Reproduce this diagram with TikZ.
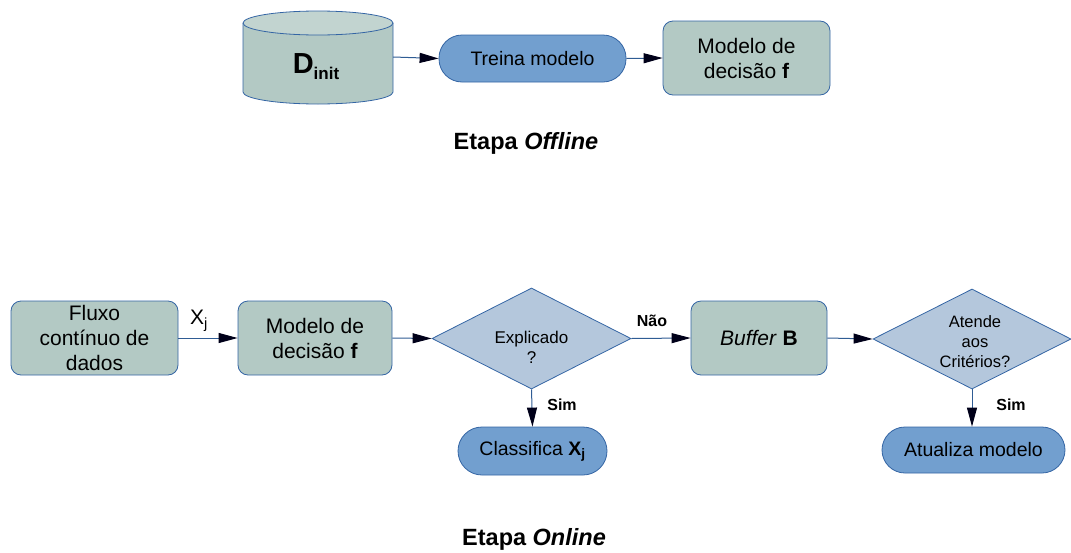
\documentclass[tikz,border=0pt]{standalone}
\usepackage{fontspec}
\setmainfont{Liberation Sans}
\usetikzlibrary{shapes.geometric,arrows.meta}
\definecolor{boxfill}{HTML}{B3C9C4}
\definecolor{diafill}{HTML}{B4C7DC}
\definecolor{stadfill}{HTML}{729FCF}
\definecolor{edge}{HTML}{3465A4}
\definecolor{linec}{HTML}{2F5C94}
\tikzset{
  basefont/.style={font=\fontsize{21}{25}\selectfont, align=center, text=black},
  procbox/.style={basefont, draw=edge, line width=0.8pt, fill=boxfill, rounded corners=10pt, inner sep=0pt, minimum height=74pt},
  stadium/.style={font=\fontsize{19.5}{24}\selectfont, align=center, text=black, draw=edge, line width=0.8pt, fill=stadfill, inner sep=0pt},
  decision/.style={draw=edge, line width=0.8pt, fill=diafill, diamond, aspect=2, inner sep=0pt},
  dtext/.style={align=center, inner sep=0pt, font=\fontsize{17}{20}\selectfont},
  flow/.style={draw=linec, line width=1pt, -{Triangle[length=19pt,width=10pt,color=black!90!blue]}},
  lbl/.style={font=\fontsize{16}{18}\selectfont\bfseries, inner sep=0pt},
  title/.style={font=\fontsize{23.5}{26}\selectfont\bfseries, inner sep=0pt}
}
\begin{document}
\begin{tikzpicture}[x=1pt,y=-1pt]
\useasboundingbox (0,0) rectangle (1071,552);
% Offline stage
\fill[boxfill] (243,23) -- (243,92) arc[start angle=180,end angle=0,x radius=75,y radius=12] -- (393,23) -- cycle;
\draw[edge, line width=0.8pt] (243,23) -- (243,92) arc[start angle=180,end angle=0,x radius=75,y radius=12] -- (393,23);
\draw[edge, line width=0.8pt, fill=boxfill!80!white] (318,23) ellipse[x radius=75,y radius=12];
\node[inner sep=0pt, minimum width=150pt, minimum height=94pt] (dinit) at (318,57) {};
\node[inner sep=0pt, anchor=base] (dinittext) at (316,73) {\fontsize{29}{30}\selectfont\bfseries D\raisebox{-6pt}{\fontsize{17}{18}\selectfont init}};
\node[stadium, minimum width=187pt, minimum height=47pt, rounded corners=23pt] (treina) at (532.5,58.5) {Treina modelo};
\node[procbox, minimum width=167pt] (modtop) at (746.5,58) {Modelo de\\decisão \textbf{f}};
\draw[flow] (dinit.east) -- (treina.west);
\draw[flow] (treina.east) -- (modtop.west);
\node[title] (offline) at (526,143) {Etapa \textit{Offline}};
% Online stage
\node[procbox, minimum width=167pt] (fluxo) at (94.5,338) {Fluxo\\contínuo de\\dados};
\node[procbox, minimum width=154pt] (modbot) at (315,338) {Modelo de\\decisão \textbf{f}};
\node[decision, minimum width=199pt, minimum height=101pt] (expl) at (531.5,338.5) {};
\node[dtext] (expltext) at (531.5,347) {Explicado\\?};
\node[procbox, minimum width=136pt] (buffer) at (759,338) {\textit{Buffer} \textbf{B}};
\node[decision, minimum width=198pt, minimum height=100pt] (crit) at (972,339) {};
\node[dtext, font=\fontsize{16.5}{20}\selectfont] (crittext) at (975,342) {Atende\\aos\\Critérios?};
\node[stadium, minimum width=149pt, minimum height=48pt, rounded corners=24pt] (classif) at (532.5,451) {Classifica \textbf{X\textsubscript{j}}};
\node[stadium, minimum width=183pt, minimum height=46pt, rounded corners=23pt] (atual) at (973.5,450) {Atualiza modelo};
\draw[flow] (fluxo.east) -- (modbot.west);
\draw[flow] (modbot.east) -- (expl.west);
\draw[flow] (expl.east) -- (buffer.west);
\draw[flow] (buffer.east) -- (crit.west);
\draw[flow] (expl.south) -- (classif.north);
\draw[flow] (crit.south) -- (crit.south |- atual.north);
\node[font=\fontsize{21}{22}\selectfont, inner sep=0pt] (xj) at (199,321) {X\textsubscript{j}};
\node[lbl] (nao) at (652,321) {Não};
\node[lbl] (sim1) at (562,405) {Sim};
\node[lbl] (sim2) at (1011,405) {Sim};
\node[title] (online) at (534,539) {Etapa \textit{Online}};
\end{tikzpicture}
\end{document}
